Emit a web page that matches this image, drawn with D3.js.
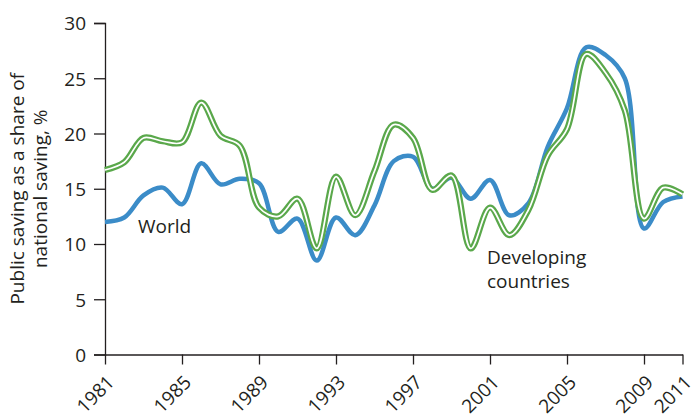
<!DOCTYPE html>
<html>
<head>
<meta charset="utf-8">
<script src="https://cdn.jsdelivr.net/npm/d3@7"></script>
<style>
  html, body { margin: 0; padding: 0; background: #fff; }
  svg { display: block; }
  text { font-family: "Open Sans", "Liberation Sans", sans-serif; fill: #231f20; }
</style>
</head>
<body>
<svg id="chart" width="692" height="414"></svg>
<script>
// Public saving as a share of national saving, %, 1981–2011
const years = d3.range(1981, 2012);
const world = [
  12.0, 12.4, 14.4, 15.1, 13.6, 17.3, 15.4, 15.9, 15.5, 11.1,
  12.3, 8.5, 12.4, 10.8, 13.5, 17.5, 17.9, 15.0, 16.0, 14.1,
  15.8, 12.6, 13.7, 18.8, 22.3, 27.8, 27.1, 25.0, 11.4, 13.8,
  14.3
];
const developing = [
  16.7, 17.4, 19.6, 19.3, 19.2, 22.8, 19.8, 18.9, 13.3, 12.5,
  14.1, 9.6, 16.1, 12.6, 16.6, 20.8, 19.6, 14.9, 16.2, 9.6,
  13.3, 10.8, 13.1, 18.0, 20.4, 27.2, 25.5, 22.1, 12.3, 15.1,
  14.5
];
const xTicks = [1981, 1985, 1989, 1993, 1997, 2001, 2005, 2009, 2011];
const yTicks = [0, 5, 10, 15, 20, 25, 30];
const yTitle = ["Public saving as a share of", "national saving, %"];

const svg = d3.select("#chart");
const x = d3.scaleLinear().domain([1981, 2011]).range([105, 682.5]);
const y = d3.scaleLinear().domain([0, 30]).range([354.5, 23]);

// y axis
const yAxis = svg.append("g")
  .attr("transform", `translate(${x(1981)},0)`)
  .call(d3.axisLeft(y).tickValues(yTicks).tickSize(11).tickPadding(8));
yAxis.selectAll("text").style("font-size", "19px").attr("dy", "0.36em");

// x axis with slanted year labels
const xAxis = svg.append("g")
  .attr("transform", `translate(0,${y(0)})`)
  .call(d3.axisBottom(x).tickValues(xTicks).tickFormat(d3.format("d")).tickSize(10).tickSizeOuter(0));
xAxis.selectAll("text")
  .style("font-size", "19px")
  .attr("text-anchor", "end")
  .attr("x", 0)
  .attr("y", 0)
  .attr("dy", 0)
  .attr("transform", "translate(10,29) rotate(-45)");

svg.selectAll(".domain, .tick line").attr("stroke", "#231f20").attr("stroke-width", 1.3);
svg.selectAll(".tick text").attr("fill", "#231f20");

// y axis title
const title = svg.append("text")
  .attr("transform", `translate(24,${(y(0) + y(30)) / 2}) rotate(-90)`)
  .attr("text-anchor", "middle")
  .style("font-size", "19px");
title.selectAll("tspan").data(yTitle).join("tspan")
  .attr("x", 0)
  .attr("dy", (d, i) => i === 0 ? 0 : "1.2em")
  .text(d => d);

// lines
const line = d3.line()
  .x((d, i) => x(years[i]))
  .y(d => y(d))
  .curve(d3.curveCatmullRom.alpha(0.5));

svg.append("path")
  .datum(world)
  .attr("fill", "none")
  .attr("stroke", "#3b8cc8")
  .attr("stroke-width", 4.5)
  .attr("stroke-linejoin", "round")
  .attr("d", line);

// developing countries: green line with a thin white core
svg.append("path")
  .datum(developing)
  .attr("fill", "none")
  .attr("stroke", "#5aa84b")
  .attr("stroke-width", 6.2)
  .attr("stroke-linejoin", "round")
  .attr("d", line);
svg.append("path")
  .datum(developing)
  .attr("fill", "none")
  .attr("stroke", "#ffffff")
  .attr("stroke-width", 1.7)
  .attr("stroke-linejoin", "round")
  .attr("d", line);

// series labels
svg.append("text")
  .attr("x", 138).attr("y", 233)
  .style("font-size", "19px")
  .text("World");
const dev = svg.append("text")
  .attr("x", 487).attr("y", 264)
  .style("font-size", "19px");
dev.append("tspan").attr("x", 487).text("Developing");
dev.append("tspan").attr("x", 487).attr("dy", "1.25em").text("countries");
</script>
</body>
</html>
